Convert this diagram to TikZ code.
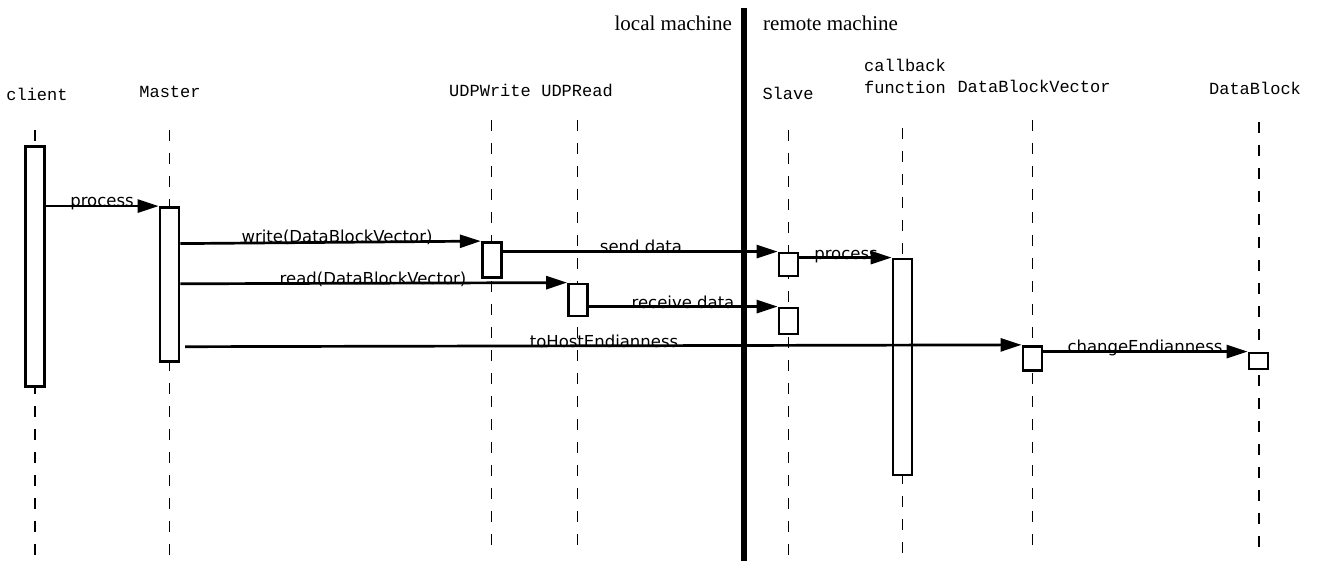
\documentclass[tikz,border=0pt]{standalone}
\usepackage{fontspec}
\setmainfont{Liberation Serif}
\newfontfamily\monof{Liberation Mono}
\newfontfamily\sansf{DejaVu Sans}
\usetikzlibrary{arrows.meta,calc}
\tikzset{
 head/.style={font=\monof\fontsize{17}{20}\selectfont, anchor=base, inner sep=0},
 life/.style={line width=1.5pt, dash pattern=on 11pt off 12pt},
 act/.style={draw, fill=white, line width=2.8pt, inner sep=0, minimum width=19pt},
 msg/.style={line width=2.7pt, -{Triangle[length=21pt,width=13pt]}},
 mlab/.style={font=\sansf\fontsize{16.5}{19}\selectfont, anchor=base, inner sep=0},
 mach/.style={font=\fontsize{21}{24}\selectfont, inner sep=0},
}
\begin{document}
\begin{tikzpicture}[x=1pt,y=-1pt]
\useasboundingbox (0,0) rectangle (1321,561);
% headers
\node[head] (hclient) at (37,101) {client};
\node[head] (hmaster) at (170,98) {Master};
\node[head] (huw) at (490,97) {UDPWrite};
\node[head] (hur) at (577,97) {UDPRead};
\node[head] (hslave) at (788,100) {Slave};
\node[head] (hcb1) at (905,72) {callback};
\node[head] (hcb2) at (905,94) {function};
\node[head] (hdbv) at (1034,93) {DataBlockVector};
\node[head] (hdb) at (1255,95) {DataBlock};
% machine divider
\node[mach, anchor=base east] (local) at (732,31) {local machine};
\node[mach, anchor=base west] (remote) at (763,31) {remote machine};
\draw[line width=6.5pt] (744,8) -- (744,561);
% lifelines
\draw[life] (35,130) -- (35,555);
\draw[life] (169.5,130) -- (169.5,555);
\draw[life] (491.7,120) -- (491.7,548);
\draw[life] (577.5,120) -- (577.5,548);
\draw[life] (788.5,130) -- (788.5,555);
\draw[life] (902.7,128) -- (902.7,553);
\draw[life] (1032.7,120) -- (1032.7,545);
\draw[life] (1259,122) -- (1259,548);
% activation boxes
\node[act, minimum height=240pt] (cbox) at (35,266.5) {};
\node[act, minimum height=154pt] (mbox) at (169.5,284.5) {};
\node[act, minimum height=35pt] (uw) at (491.7,260) {};
\node[act, minimum height=32pt] (ur) at (578,300) {};
\node[act, minimum height=23pt] (s1) at (788.5,264.5) {};
\node[act, minimum height=26pt] (s2) at (788.5,321) {};
\node[act, minimum height=216pt] (cb) at (902.5,367) {};
\node[act, minimum height=24.5pt] (dbv) at (1032.5,358.5) {};
\node[act, minimum height=16pt] (db) at (1258.5,361) {};
\coordinate (th) at (185,346.7);
% messages
\draw[msg] (cbox.east |- mbox.north) -- (mbox.north west);
\draw[msg] ($(mbox.east |- uw.north)+(0,2.5)$) -- (uw.north west);
\draw[msg] ($(uw.east |- s1.north)$) -- (s1.north west);
\draw[msg] ($(mbox.east |- ur.north)+(0,1.2)$) -- (ur.north west);
\draw[msg] (ur.east |- s2.north) -- (s2.north west);
\draw[msg] (s1.east |- cb.north) -- (cb.north west);
\draw[msg] (th) -- (dbv.north west);
\draw[msg] (dbv.east |- db.north) -- (db.north west);
% message labels
\node[mlab] (l1) at (102,207) {process};
\node[mlab] (l2) at (337,243) {write(DataBlockVector)};
\node[mlab] (l3) at (641,252) {send data};
\node[mlab] (l4) at (373,284) {read(DataBlockVector)};
\node[mlab] (l5) at (683,308) {receive data};
\node[mlab] (l6) at (846,259) {process};
\node[mlab] (l7) at (604,347) {toHostEndianness};
\node[mlab] (l8) at (1145,352) {changeEndianness};
\end{tikzpicture}
\end{document}
